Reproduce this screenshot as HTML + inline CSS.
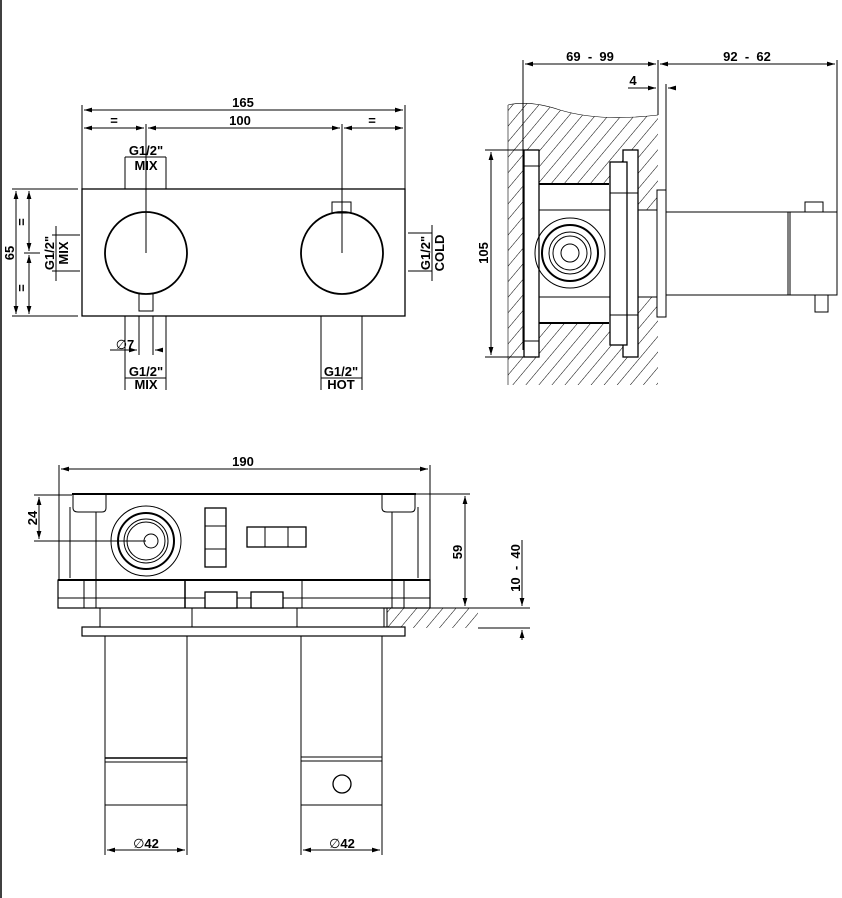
<!DOCTYPE html>
<html><head><meta charset="utf-8"><style>
html,body{margin:0;padding:0;background:#fff}
svg{display:block}
text{font-family:"Liberation Sans",sans-serif;font-weight:bold;font-size:13px;fill:#000}
</style></head><body>
<svg width="842" height="898" viewBox="0 0 842 898" xmlns="http://www.w3.org/2000/svg">
<defs>
<pattern id="h" patternUnits="userSpaceOnUse" width="10" height="10" patternTransform="rotate(40)">
<line x1="0" y1="0" x2="0" y2="10" stroke="#000" stroke-width="1"/>
</pattern>
<marker id="a" viewBox="0 0 10 6" refX="10" refY="3" markerWidth="8" markerHeight="5" orient="auto-start-reverse"><path d="M0,0L10,3L0,6z" fill="#000"/></marker>
</defs>
<line x1="1" y1="0" x2="1" y2="898" stroke="#000" stroke-width="1.5"/>
<g stroke="#000" fill="none" stroke-width="1">
<!-- FRONT VIEW -->
<rect x="82" y="189" width="323" height="127" stroke-width="1.3"/>
<circle cx="146" cy="253" r="41" stroke-width="1.8"/>
<circle cx="342" cy="253" r="41" stroke-width="1.8"/>
<rect x="139" y="294" width="14" height="17"/>
<rect x="332" y="202" width="19" height="11"/>
<line x1="82" y1="105" x2="82" y2="189"/><line x1="405" y1="105" x2="405" y2="189"/>
<line x1="84" y1="110" x2="403" y2="110" marker-start="url(#a)" marker-end="url(#a)"/>
<line x1="84" y1="128" x2="144" y2="128" marker-start="url(#a)" marker-end="url(#a)"/>
<line x1="148" y1="128" x2="340" y2="128" marker-start="url(#a)" marker-end="url(#a)"/>
<line x1="344" y1="128" x2="403" y2="128" marker-start="url(#a)" marker-end="url(#a)"/>
<line x1="146" y1="124" x2="146" y2="253"/><line x1="342" y1="124" x2="342" y2="253"/>
<line x1="125" y1="157" x2="125" y2="189"/><line x1="166" y1="157" x2="166" y2="189"/>
<line x1="125" y1="157" x2="166" y2="157"/>
<line x1="12" y1="189" x2="78" y2="189"/><line x1="12" y1="316" x2="78" y2="316"/>
<line x1="16" y1="191" x2="16" y2="314" marker-start="url(#a)" marker-end="url(#a)"/>
<line x1="29" y1="191" x2="29" y2="251" marker-start="url(#a)" marker-end="url(#a)"/>
<line x1="29" y1="255" x2="29" y2="314" marker-start="url(#a)" marker-end="url(#a)"/>
<line x1="24" y1="253" x2="40" y2="253"/>
<line x1="56" y1="226" x2="56" y2="281"/>
<line x1="52" y1="235" x2="80" y2="235"/><line x1="52" y1="271" x2="80" y2="271"/>
<line x1="408" y1="233" x2="432" y2="233"/><line x1="408" y1="271" x2="432" y2="271"/>
<line x1="432" y1="225" x2="432" y2="281"/>
<line x1="125" y1="316" x2="125" y2="390"/><line x1="166" y1="316" x2="166" y2="390"/>
<line x1="139" y1="316" x2="139" y2="355"/><line x1="153" y1="316" x2="153" y2="355"/>
<line x1="110" y1="350" x2="137" y2="350" marker-end="url(#a)"/>
<line x1="162" y1="350" x2="155" y2="350" marker-end="url(#a)"/>
<line x1="125" y1="378" x2="166" y2="378"/>
<line x1="321" y1="316" x2="321" y2="390"/><line x1="362" y1="316" x2="362" y2="390"/>
<line x1="321" y1="378" x2="362" y2="378"/>
<!-- SIDE VIEW -->
<path d="M508,105 Q530,100 560,110 Q600,122 658,115 L658,190 L666,190 L666,317 L658,317 L658,385 L508,385 Z" fill="url(#h)" stroke="none"/>
<path d="M508,105 Q530,100 560,110 Q600,122 658,115" stroke-width="0.6"/>
<line x1="508" y1="105" x2="508" y2="385" stroke-width="0.6"/>
<rect x="536" y="184" width="74" height="26" fill="#fff" stroke="none"/>
<rect x="536" y="297" width="74" height="26" fill="#fff" stroke="none"/>
<rect x="536" y="210" width="122" height="87" fill="#fff"/>
<line x1="539" y1="184" x2="609" y2="184" stroke-width="2"/>
<line x1="539" y1="323" x2="609" y2="323" stroke-width="2"/>
<rect x="524" y="150" width="15" height="207" fill="#fff" stroke-width="1.3"/>
<rect x="623" y="150" width="15" height="207" fill="#fff" stroke-width="1.3"/>
<rect x="610" y="162" width="17" height="183" fill="#fff" stroke-width="1.3"/>
<line x1="610" y1="193" x2="638" y2="193"/><line x1="610" y1="315" x2="638" y2="315"/>
<line x1="524" y1="166" x2="539" y2="166"/><line x1="524" y1="341" x2="539" y2="341"/>
<circle cx="570" cy="253" r="35"/><circle cx="570" cy="253" r="28" stroke-width="2"/>
<circle cx="570" cy="253" r="21"/><circle cx="570" cy="253" r="17"/>
<circle cx="570" cy="253" r="9"/>
<rect x="657" y="190" width="9" height="127" fill="#fff"/>
<rect x="666" y="212" width="122" height="83"/>
<rect x="788" y="212" width="49" height="83"/>
<line x1="790" y1="212" x2="790" y2="295"/>
<rect x="805" y="202" width="18" height="10"/>
<rect x="815" y="295" width="13" height="17"/>
<line x1="523" y1="60" x2="523" y2="350"/>
<line x1="658" y1="60" x2="658" y2="115"/>
<line x1="837" y1="60" x2="837" y2="212"/>
<line x1="666" y1="84" x2="666" y2="190"/>
<line x1="525" y1="64" x2="656" y2="64" marker-start="url(#a)" marker-end="url(#a)"/>
<line x1="660" y1="64" x2="835" y2="64" marker-start="url(#a)" marker-end="url(#a)"/>
<line x1="628" y1="88" x2="656" y2="88" marker-end="url(#a)"/>
<line x1="676" y1="88" x2="668" y2="88" marker-end="url(#a)"/>
<line x1="485" y1="150" x2="524" y2="150"/><line x1="485" y1="357" x2="524" y2="357"/>
<line x1="491" y1="152" x2="491" y2="355" marker-start="url(#a)" marker-end="url(#a)"/>
<!-- BOTTOM VIEW -->
<line x1="59" y1="465" x2="59" y2="580"/><line x1="430" y1="465" x2="430" y2="580"/>
<line x1="61" y1="469" x2="428" y2="469" marker-start="url(#a)" marker-end="url(#a)"/>
<line x1="72" y1="494" x2="416" y2="494" stroke-width="2"/>
<line x1="70" y1="507" x2="70" y2="578"/><line x1="418" y1="507" x2="418" y2="578"/>
<path d="M73,494 L73,508 Q73,512 78,512 L102,512 Q106,512 106,508 L106,494"/>
<path d="M382,494 L382,508 Q382,512 387,512 L411,512 Q415,512 415,508 L415,494"/>
<line x1="96" y1="512" x2="96" y2="608"/><line x1="392" y1="512" x2="392" y2="608"/>
<circle cx="146" cy="541" r="35"/><circle cx="146" cy="541" r="28" stroke-width="2"/>
<circle cx="146" cy="541" r="22"/><circle cx="146" cy="541" r="19"/>
<circle cx="151" cy="541" r="7"/>
<rect x="205" y="508" width="21" height="59" stroke-width="1.3"/>
<line x1="205" y1="526" x2="226" y2="526"/><line x1="205" y1="549" x2="226" y2="549"/>
<rect x="247" y="527" width="59" height="20" stroke-width="1.3"/>
<line x1="265" y1="527" x2="265" y2="547"/><line x1="288" y1="527" x2="288" y2="547"/>
<rect x="58" y="580" width="372" height="28" stroke-width="1.2"/>
<line x1="58" y1="580" x2="430" y2="580" stroke-width="2"/>
<line x1="58" y1="598" x2="430" y2="598"/>
<line x1="185" y1="580" x2="185" y2="608" stroke-width="1.5"/><line x1="302" y1="580" x2="302" y2="608"/>
<line x1="84" y1="580" x2="84" y2="608"/><line x1="404" y1="580" x2="404" y2="608"/>
<rect x="205" y="592" width="32" height="16" fill="#fff" stroke-width="1.3"/>
<rect x="251" y="592" width="32" height="16" fill="#fff" stroke-width="1.3"/>
<line x1="100" y1="608" x2="100" y2="628"/><line x1="192" y1="608" x2="192" y2="628"/>
<line x1="297" y1="608" x2="297" y2="628"/><line x1="384" y1="608" x2="384" y2="628"/>
<rect x="387" y="608" width="91" height="20" fill="url(#h)" stroke="none"/>
<line x1="387" y1="608" x2="387" y2="628"/>
<line x1="416" y1="494" x2="470" y2="494"/>
<line x1="430" y1="608" x2="530" y2="608"/><line x1="478" y1="628" x2="530" y2="628"/>
<rect x="82" y="627" width="323" height="9" fill="#fff" stroke-width="1.2"/>
<line x1="465" y1="496" x2="465" y2="606" marker-start="url(#a)" marker-end="url(#a)"/>
<line x1="34" y1="495" x2="72" y2="495"/><line x1="34" y1="541" x2="146" y2="541"/>
<line x1="39" y1="497" x2="39" y2="539" marker-start="url(#a)" marker-end="url(#a)"/>
<line x1="522" y1="540" x2="522" y2="606" marker-end="url(#a)"/>
<line x1="522" y1="640" x2="522" y2="630" marker-end="url(#a)"/>
<rect x="105" y="636" width="82" height="169"/>
<line x1="105" y1="758" x2="187" y2="758" stroke-width="1.5"/><line x1="105" y1="762" x2="187" y2="762"/>
<rect x="301" y="636" width="81" height="169"/>
<line x1="301" y1="757" x2="382" y2="757"/><line x1="301" y1="761" x2="382" y2="761"/>
<circle cx="342" cy="784" r="9" stroke-width="1.3"/>
<line x1="105" y1="805" x2="105" y2="855"/><line x1="187" y1="805" x2="187" y2="855"/>
<line x1="301" y1="805" x2="301" y2="855"/><line x1="382" y1="805" x2="382" y2="855"/>
<line x1="107" y1="850" x2="185" y2="850" marker-start="url(#a)" marker-end="url(#a)"/>
<line x1="303" y1="850" x2="380" y2="850" marker-start="url(#a)" marker-end="url(#a)"/>
</g>
<g text-anchor="middle">
<text x="243" y="107">165</text>
<text x="240" y="125">100</text>
<text x="114" y="125" font-size="9">=</text>
<text x="372" y="125" font-size="9">=</text>
<text x="146" y="155" font-size="12">G1/2"</text>
<text x="146" y="170" font-size="12">MIX</text>
<text x="146" y="376" font-size="12">G1/2"</text>
<text x="146" y="389" font-size="12">MIX</text>
<text x="341" y="376" font-size="12">G1/2"</text>
<text x="341" y="389" font-size="12">HOT</text>
<text x="125" y="349" font-size="14"><tspan font-family="DejaVu Sans" font-weight="normal">∅</tspan>7</text>
<text transform="translate(14,253) rotate(-90)">65</text>
<text transform="translate(26,222) rotate(-90)" font-size="9">=</text>
<text transform="translate(26,288) rotate(-90)" font-size="9">=</text>
<text transform="translate(54,253) rotate(-90)" font-size="12">G1/2"</text>
<text transform="translate(68,253) rotate(-90)" font-size="12">MIX</text>
<text transform="translate(430,253) rotate(-90)" font-size="12">G1/2"</text>
<text transform="translate(444,253) rotate(-90)" font-size="12">COLD</text>
<text x="590" y="61">69&#160;&#160;-&#160;&#160;99</text>
<text x="747" y="61">92&#160;&#160;-&#160;&#160;62</text>
<text x="633" y="85">4</text>
<text transform="translate(488,253) rotate(-90)">105</text>
<text x="243" y="466">190</text>
<text transform="translate(37,518) rotate(-90)">24</text>
<text transform="translate(462,552) rotate(-90)">59</text>
<text transform="translate(520,568) rotate(-90)">10&#160;&#160;-&#160;&#160;40</text>
<text x="146" y="848" font-size="14"><tspan font-family="DejaVu Sans" font-weight="normal">∅</tspan>42</text>
<text x="342" y="848" font-size="14"><tspan font-family="DejaVu Sans" font-weight="normal">∅</tspan>42</text>
</g>
</svg>
</body></html>
